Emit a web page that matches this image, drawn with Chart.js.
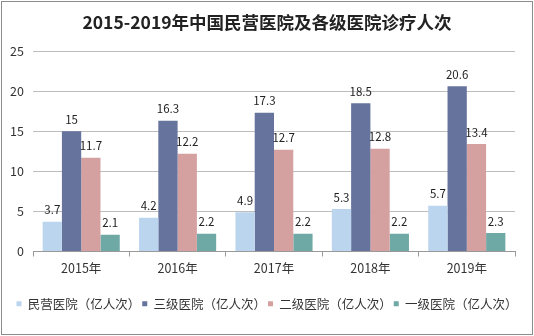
<!DOCTYPE html>
<html><head><meta charset="utf-8">
<script src="https://cdn.jsdelivr.net/npm/chart.js@4"></script>
<style>html,body{margin:0;padding:0;background:#fff}#wrap{width:534px;height:336px;position:relative}</style>
</head><body><div id="wrap"><canvas id="c" width="534" height="336"></canvas></div>
<script>
const categories = ['2015年','2016年','2017年','2018年','2019年'];
const seriesNames = ['民营医院（亿人次）','三级医院（亿人次）','二级医院（亿人次）','一级医院（亿人次）'];
const privateHosp = [3.7, 4.2, 4.9, 5.3, 5.7];
const tier3 = [15, 16.3, 17.3, 18.5, 20.6];
const tier2 = [11.7, 12.2, 12.7, 12.8, 13.4];
const tier1 = [2.1, 2.2, 2.2, 2.2, 2.3];
const yTicks = [0, 5, 10, 15, 20, 25];
const colors = ['#bcd5ee', '#66739d', '#d4a1a0', '#6fa9a6'];
const FONT = '"Noto Sans CJK SC", "Noto Sans", sans-serif';

const labelPlugin = {
  id: 'labels',
  afterDatasetsDraw(chart) {
    const ctx = chart.ctx;
    ctx.save();
    ctx.font = '11.5px ' + FONT;
    ctx.fillStyle = '#222';
    ctx.textAlign = 'center';
    ctx.textBaseline = 'bottom';
    chart.data.datasets.forEach((ds, i) => {
      chart.getDatasetMeta(i).data.forEach((bar, j) => {
        ctx.fillText(String(ds.data[j]), bar.x, bar.y - 6);
      });
    });
    ctx.restore();
  }
};
const borderPlugin = {
  id: 'border',
  afterDraw(chart) {
    const ctx = chart.ctx;
    ctx.save();
    ctx.strokeStyle = '#8c8c8c';
    ctx.lineWidth = 1;
    ctx.strokeRect(1.5, 1.5, chart.width - 3, chart.height - 3);
    ctx.restore();
  }
};

const data = {
  labels: categories,
  datasets: [privateHosp, tier3, tier2, tier1].map((d, i) => ({
    label: seriesNames[i], data: d, backgroundColor: colors[i],
    categoryPercentage: 0.8, barPercentage: 1.0
  }))
};

new Chart(document.getElementById('c'), {
  type: 'bar',
  data,
  plugins: [labelPlugin, borderPlugin],
  options: {
    responsive: false,
    animation: false,
    layout: { padding: { left: 0, right: 0, top: 4, bottom: 16 } },
    plugins: {
      title: { display: true, text: '2015-2019年中国民营医院及各级医院诊疗人次',
        font: { family: FONT, size: 17.5, weight: 'bold' }, color: '#222', padding: { top: 8, bottom: 18 } },
      legend: { position: 'bottom',
        labels: { boxWidth: 5, boxHeight: 5, font: { family: FONT, size: 12.5 }, color: '#333', padding: 2 } },
      tooltip: { enabled: false }
    },
    scales: {
      x: {
        afterFit(axis) { axis.height += 16; },
        grid: { display: true, drawOnChartArea: false, drawTicks: true, tickLength: 5, color: '#999', offset: true },
        border: { color: '#999' },
        ticks: { font: { family: FONT, size: 12.5 }, color: '#333', padding: 4 }
      },
      y: {
        min: 0, max: 25,
        afterBuildTicks(axis) { axis.ticks = yTicks.map(v => ({ value: v })); },
        afterFit(axis) { axis.width = 33; },
        grid: { color: '#bdbdbd', drawTicks: false },
        border: { display: false },
        ticks: { font: { family: FONT, size: 12.5 }, color: '#333', padding: 9 }
      },
      yRightSpace: {
        position: 'right', min: 0, max: 25,
        afterFit(axis) { axis.width = 19; },
        grid: { display: false, drawTicks: false },
        border: { display: false },
        ticks: { display: false }
      }
    }
  }
});
</script></body></html>
